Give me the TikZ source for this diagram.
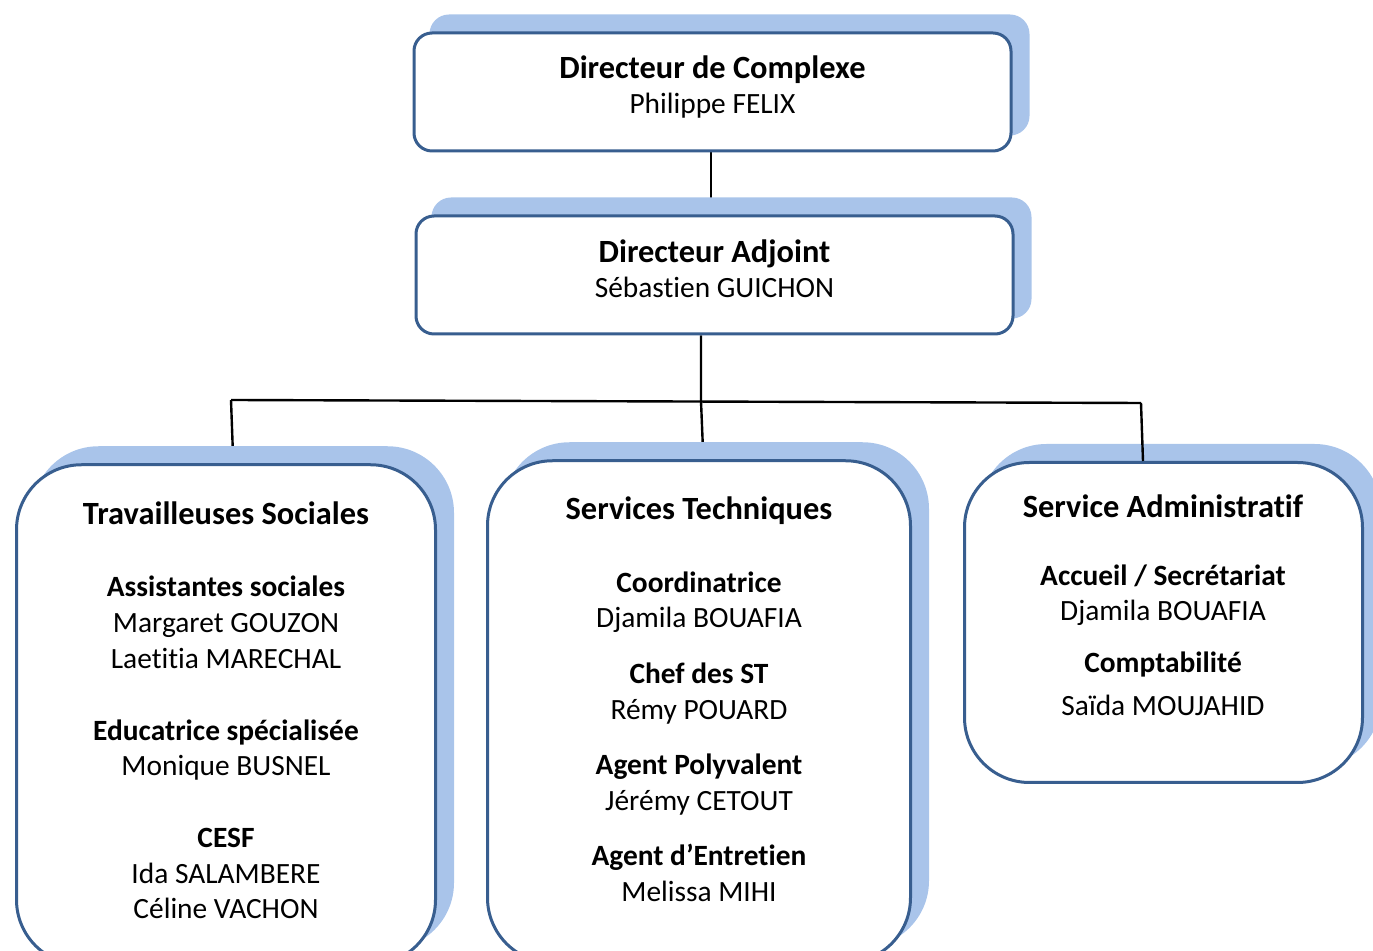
\documentclass[tikz,border=0pt]{standalone}
\usepackage{fontspec}
\setmainfont{Carlito}[Ligatures={CommonOff,ContextualOff}]
\usetikzlibrary{shadows}
\pgfdeclarelayer{background}
\pgfsetlayers{background,main}
\definecolor{bordblue}{RGB}{56,94,143}
\definecolor{shadblue}{RGB}{169,196,234}
\begin{document}
\begin{tikzpicture}[x=0.5pt,y=-0.5pt,
  orgbox/.style={draw=bordblue, line width=1.5pt, fill=white, rounded corners=#1,
    inner sep=0pt,
    copy shadow={shadow xshift=8.5pt, shadow yshift=8.5pt, fill=shadblue, draw=shadblue, line width=1.5pt}},
  txt/.style={anchor=base, inner sep=0pt, font=\fontsize{14.7}{18}\selectfont},
  txtsb/.style={anchor=base, inner sep=0pt, font=\fontsize{14.7}{18}\selectfont\bfseries},
  txtb/.style={anchor=base, inner sep=0pt, font=\fontsize{16.2}{18}\selectfont\bfseries},
  link/.style={draw=black, line width=1.2pt}]
\useasboundingbox (0,0) rectangle (1373,951);
\clip (0,0) rectangle (1373,951);

% boxes
\node[orgbox=9pt, minimum width=298.5pt, minimum height=59pt] (dc) at (712.5,92) {};
\node[orgbox=9pt, minimum width=298.5pt, minimum height=59pt] (da) at (714.5,275) {};
\node[orgbox=32.5pt, minimum width=209.5pt, minimum height=250pt] (ts) at (226,714.75) {};
\node[orgbox=32.5pt, minimum width=211.5pt, minimum height=251pt] (st) at (699,711.75) {};
\node[orgbox=32.5pt, minimum width=199pt, minimum height=160pt] (sa) at (1163.5,622.5) {};

% connector points
\coordinate (tx) at (711,0);
\coordinate (jm) at (701,401);
\coordinate (jl) at (231,400);
\coordinate (jr) at (1141,403);
\coordinate (el) at (233,455);
\coordinate (em) at (703,450);
\coordinate (er) at (1143,461);

\begin{pgfonlayer}{background}
  \draw[link] (dc.south -| tx) -- (da.north -| tx);
  \draw[link] (da.south -| jm) -- (jm) -- (em);
  \draw[link] (jl) -- (jr);
  \draw[link] (jl) -- (el);
\end{pgfonlayer}
\draw[link] (jr) -- (er);

% texts
\node[txtb] (dc1) at (712.5,79) {Directeur de Complexe};
\node[txt]  (dc2) at (712.5,114) {Philippe FELIX};
\node[txtb] (da1) at (714.5,263) {Directeur Adjoint};
\node[txt]  (da2) at (714.5,298) {Sébastien GUICHON};

\node[txtb]  (ts0) at (226,525) {Travailleuses Sociales};
\node[txtsb] (ts1) at (226,597) {Assistantes sociales};
\node[txt]   (ts2) at (226,633) {Margaret GOUZON};
\node[txt]   (ts3) at (226,669) {Laetitia MARECHAL};
\node[txtsb] (ts4) at (226,741) {Educatrice spécialisée};
\node[txt]   (ts5) at (226,776) {Monique BUSNEL};
\node[txtsb] (ts6) at (226,848) {CESF};
\node[txt]   (ts7) at (226,884) {Ida SALAMBERE};
\node[txt]   (ts8) at (226,919) {Céline VACHON};

\node[txtb]  (st0) at (699,520) {Services Techniques};
\node[txtsb] (st1) at (699,593) {Coordinatrice};
\node[txt]   (st2) at (699,628) {Djamila BOUAFIA};
\node[txtsb] (st3) at (699,684) {Chef des ST};
\node[txt]   (st4) at (699,720) {Rémy POUARD};
\node[txtsb] (st5) at (699,775) {Agent Polyvalent};
\node[txt]   (st6) at (699,811) {Jérémy CETOUT};
\node[txtsb] (st7) at (699,866) {Agent d’Entretien};
\node[txt]   (st8) at (699,902) {Melissa MIHI};

\node[txtb]  (sa0) at (1163,518) {Service Administratif};
\node[txtsb] (sa1) at (1163,586) {Accueil / Secrétariat};
\node[txt]   (sa2) at (1163,621) {Djamila BOUAFIA};
\node[txtsb] (sa3) at (1163,673) {Comptabilité};
\node[txt]   (sa4) at (1163,716) {Saïda MOUJAHID};
\end{tikzpicture}
\end{document}
